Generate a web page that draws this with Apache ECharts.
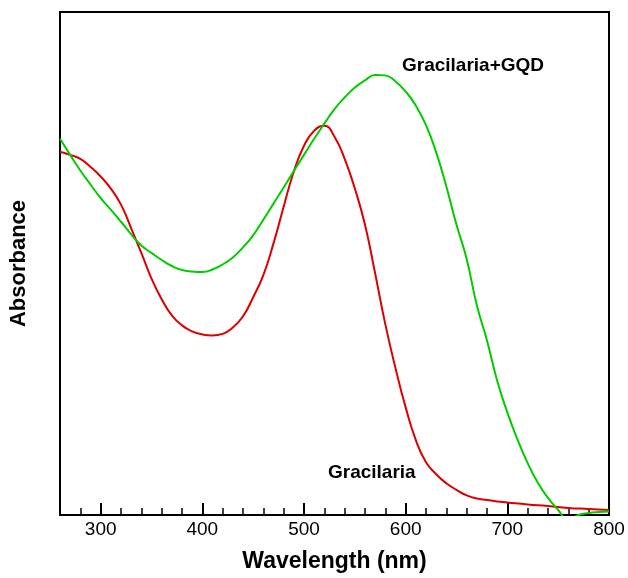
<!DOCTYPE html>
<html>
<head>
<meta charset="utf-8">
<title>Absorbance spectra</title>
<script src="https://cdn.jsdelivr.net/npm/echarts@6/dist/echarts.min.js"></script>
<style>
  html, body { margin: 0; padding: 0; background: #fff; }
  #chart { width: 628px; height: 578px; }
</style>
</head>
<body>
<div id="chart"></div>
<script>
// UV-Vis absorbance spectra, wavelength in nm, absorbance in arbitrary units
const gracilaria = [
  [260, 0.722], [270, 0.716], [280, 0.708], [290, 0.692], [300, 0.673],
  [310, 0.649], [320, 0.617], [330, 0.570], [340, 0.521], [350, 0.470],
  [360, 0.429], [370, 0.397], [380, 0.377], [390, 0.365], [400, 0.359],
  [410, 0.357], [420, 0.360], [430, 0.373], [440, 0.395], [450, 0.433],
  [460, 0.477], [470, 0.540], [480, 0.613], [490, 0.683], [500, 0.734],
  [510, 0.764], [520, 0.774], [530, 0.752], [540, 0.708], [550, 0.649],
  [560, 0.577], [570, 0.480], [580, 0.379], [590, 0.292], [600, 0.214],
  [610, 0.149], [620, 0.105], [630, 0.081], [640, 0.063], [650, 0.050],
  [660, 0.039], [670, 0.033], [680, 0.030], [690, 0.027], [700, 0.025],
  [720, 0.021], [740, 0.018], [760, 0.014], [780, 0.012], [800, 0.010]
];

const gracilariaGQD = [
  [260, 0.748], [270, 0.716], [280, 0.685], [290, 0.657], [300, 0.630],
  [310, 0.607], [320, 0.583], [330, 0.558], [340, 0.536], [350, 0.521],
  [360, 0.507], [370, 0.495], [380, 0.487], [390, 0.484], [400, 0.483],
  [410, 0.488], [420, 0.498], [430, 0.512], [440, 0.532], [450, 0.556],
  [460, 0.587], [470, 0.619], [480, 0.651], [490, 0.684], [500, 0.716],
  [510, 0.748], [520, 0.778], [530, 0.807], [540, 0.830], [550, 0.850],
  [560, 0.864], [570, 0.875], [580, 0.874], [590, 0.862], [600, 0.842],
  [610, 0.814], [620, 0.775], [630, 0.721], [640, 0.653], [650, 0.577],
  [660, 0.509], [670, 0.417], [680, 0.347], [690, 0.267], [700, 0.204],
  [710, 0.150], [720, 0.103], [730, 0.064], [740, 0.034], [750, 0.010],
  [760, -0.010], [770, 0.000], [780, 0.004], [790, 0.006], [800, 0.007]
];

const majorTicks = [300, 400, 500, 600, 700, 800];
const minorTicks = [280, 320, 340, 360, 380, 420, 440, 460, 480, 520, 540, 560, 580,
                    620, 640, 660, 680, 720, 740, 760, 780];

const seriesNames = ['Gracilaria', 'Gracilaria+GQD'];
const xTitle = 'Wavelength (nm)';
const yTitle = 'Absorbance';

const FONT = "'Liberation Sans', Arial, sans-serif";

const chart = echarts.init(document.getElementById('chart'), null, { renderer: 'canvas' });

chart.setOption({
  animation: false,
  backgroundColor: '#ffffff',
  grid: {
    left: 57, right: 19, top: 12, bottom: 62,
    show: true, borderColor: '#000', borderWidth: 2, backgroundColor: 'transparent'
  },
  xAxis: [
    {
      type: 'value', min: 260, max: 800, position: 'bottom',
      axisLine: { show: true, lineStyle: { color: '#000', width: 2 } },
      axisTick: { show: true, inside: true, length: 12, customValues: majorTicks,
                  lineStyle: { color: '#000', width: 2 } },
      axisLabel: { customValues: majorTicks, fontSize: 19, color: '#000',
                   fontFamily: FONT, margin: 5 },
      splitLine: { show: false },
      name: xTitle, nameLocation: 'middle', nameGap: 35,
      nameTextStyle: { fontSize: 23, fontWeight: 'bold', color: '#000', fontFamily: FONT }
    },
    {
      // minor ticks every 20 nm
      type: 'value', min: 260, max: 800, position: 'bottom',
      axisLine: { show: false },
      axisTick: { show: true, inside: true, length: 7, customValues: minorTicks,
                  lineStyle: { color: '#000', width: 1.5 } },
      axisLabel: { show: false },
      splitLine: { show: false }
    }
  ],
  yAxis: {
    type: 'value', min: 0, max: 1,
    axisLine: { show: true, lineStyle: { color: '#000', width: 2 } },
    axisTick: { show: false },
    axisLabel: { show: false },
    splitLine: { show: false },
    name: yTitle, nameLocation: 'middle', nameGap: 30, nameRotate: 90,
    nameTextStyle: { fontSize: 22, fontWeight: 'bold', color: '#000', fontFamily: FONT }
  },
  series: [
    {
      name: seriesNames[0], type: 'line', xAxisIndex: 0, data: gracilaria,
      showSymbol: false, symbol: 'none', smooth: 0.5, clip: true,
      lineStyle: { color: '#dd0000', width: 2 }
    },
    {
      name: seriesNames[1], type: 'line', xAxisIndex: 0, data: gracilariaGQD,
      showSymbol: false, symbol: 'none', smooth: 0.5, clip: true,
      lineStyle: { color: '#00cc00', width: 2 }
    }
  ],
  graphic: [
    {
      type: 'text', x: 402, y: 66,
      style: { text: seriesNames[1], fontSize: 19, fontWeight: 'bold',
               fontFamily: FONT, fill: '#000', verticalAlign: 'middle' }
    },
    {
      type: 'text', x: 328, y: 473,
      style: { text: seriesNames[0], fontSize: 19, fontWeight: 'bold',
               fontFamily: FONT, fill: '#000', verticalAlign: 'middle' }
    }
  ]
});
</script>
</body>
</html>
